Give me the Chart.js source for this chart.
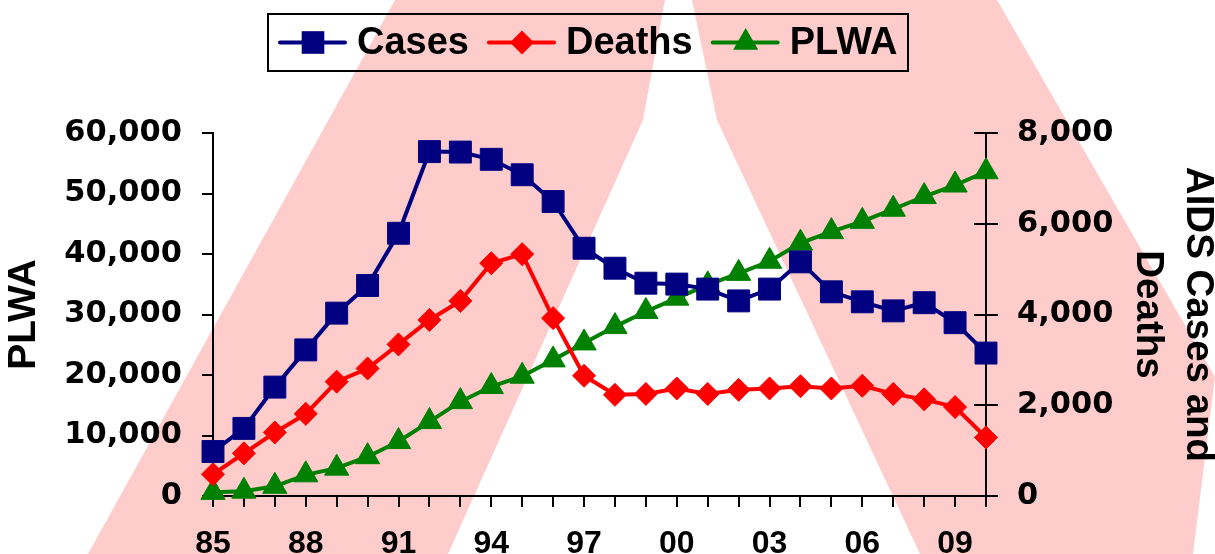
<!DOCTYPE html>
<html>
<head>
<meta charset="utf-8">
<script src="https://cdn.jsdelivr.net/npm/chart.js@4.4.1/dist/chart.umd.min.js"></script>
<style>
  html, body { margin: 0; padding: 0; background: #fff; }
  #wrap { width: 1215px; height: 554px; position: relative; }
</style>
</head>
<body>
<div id="wrap"><canvas id="canva"></canvas></div>
<script>
const years = ["85", "86", "87", "88", "89", "90", "91", "92", "93", "94", "95", "96", "97",
  "98", "99", "00", "01", "02", "03", "04", "05", "06", "07", "08", "09", "10"];
const shownYears = ["85", "88", "91", "94", "97", "00", "03", "06", "09"];

// AIDS cases and deaths (right axis), people living with AIDS (left axis)
const cases = [980, 1490, 2400, 3220, 4030, 4640, 5790, 7590, 7580, 7420, 7080, 6490, 5460,
  5020, 4690, 4670, 4560, 4300, 4560, 5160, 4500, 4280, 4080, 4260, 3820, 3150];
const deaths = [480, 940, 1400, 1810, 2520, 2810, 3340, 3880, 4300, 5130, 5330, 3920, 2650,
  2230, 2250, 2370, 2250, 2340, 2370, 2420, 2370, 2430, 2250, 2130, 1960, 1290];
const plwa = [600, 800, 1600, 3500, 4600, 6500, 9000, 12300, 15600, 18100, 19800, 22500, 25300,
  28000, 30500, 32700, 34900, 36800, 38800, 41800, 43700, 45400, 47400, 49500, 51400, 53600];

const tickFont = { family: "DejaVu Sans", size: 30.5, weight: "bold" };
const titleFont = { family: "Liberation Sans", size: 39, weight: "bold" };

// pink "A" drawn behind the chart (coords for a 1215x554 canvas)
const ribbon = {
  id: "ribbon",
  beforeDraw(chart) {
    const ctx = chart.ctx;
    const sx = chart.width / 1215, sy = chart.height / 554;
    const legs = [
      [[395, 0], [665, 0], [643, 120], [448, 554], [88, 554]],
      [[692, 0], [997, 0], [1215, 377], [1193, 554], [920, 554], [717, 120]],
    ];
    ctx.save();
    ctx.fillStyle = "#FFCCCC";
    legs.forEach(function (pts) {
      ctx.beginPath();
      pts.forEach(function (p, i) {
        if (i === 0) ctx.moveTo(p[0] * sx, p[1] * sy);
        else ctx.lineTo(p[0] * sx, p[1] * sy);
      });
      ctx.closePath();
      ctx.fill();
    });
    ctx.restore();
  },
};

// right axis tick marks cross the axis line
const crossTicks = {
  id: "crossTicks",
  beforeDatasetsDraw(chart) {
    const s = chart.scales.y2;
    const ctx = chart.ctx;
    ctx.save();
    ctx.strokeStyle = "#000";
    ctx.lineWidth = 2;
    s.ticks.forEach(function (t) {
      const y = Math.round(s.getPixelForValue(t.value));
      ctx.beginPath();
      ctx.moveTo(s.left - 12, y);
      ctx.lineTo(s.left, y);
      ctx.stroke();
    });
    ctx.restore();
  },
};

function marker(ctx, style, x, y, r) {
  ctx.beginPath();
  if (style === "rect") {
    const h = Math.SQRT1_2 * r;
    ctx.rect(x - h, y - h, 2 * h, 2 * h);
  } else if (style === "rectRot") {
    ctx.moveTo(x - r, y);
    ctx.lineTo(x, y - r);
    ctx.lineTo(x + r, y);
    ctx.lineTo(x, y + r);
    ctx.closePath();
  } else {
    ctx.moveTo(x, y - r);
    ctx.lineTo(x + r * 0.866, y + r / 2);
    ctx.lineTo(x - r * 0.866, y + r / 2);
    ctx.closePath();
  }
  ctx.fill();
}

// legend with line + marker samples in a framed box
const boxLegend = {
  id: "boxLegend",
  afterDraw(chart) {
    const ctx = chart.ctx;
    const top = 14, h = 57, left = 268;
    const midY = top + h / 2;
    ctx.save();
    ctx.font = "bold 38px 'Liberation Sans'";
    ctx.textBaseline = "middle";
    let x = left + 12;
    chart.data.datasets.forEach(function (ds) {
      ctx.strokeStyle = ds.borderColor;
      ctx.fillStyle = ds.backgroundColor;
      ctx.lineWidth = 4;
      ctx.lineCap = "round";
      ctx.beginPath();
      ctx.moveTo(x, midY);
      ctx.lineTo(x + 65, midY);
      ctx.stroke();
      marker(ctx, ds.pointStyle, x + 33, midY, ds.pointRadius + 0.5);
      ctx.fillStyle = "#000";
      ctx.fillText(ds.label, x + 77, midY + 1);
      x += 77 + ctx.measureText(ds.label).width + 20;
    });
    ctx.lineWidth = 2;
    ctx.strokeStyle = "#000";
    ctx.strokeRect(left, top, 908 - left, h);
    ctx.restore();
  },
};

const data = {
  labels: years,
  datasets: [
    {
      label: "Cases",
      data: cases,
      yAxisID: "y2",
      borderColor: "#000080",
      backgroundColor: "#000080",
      borderWidth: 4,
      pointStyle: "rect",
      pointRadius: 15.5,
      pointBorderWidth: 1,
      clip: false,
    },
    {
      label: "Deaths",
      data: deaths,
      yAxisID: "y2",
      borderColor: "#FF0000",
      backgroundColor: "#FF0000",
      borderWidth: 4,
      pointStyle: "rectRot",
      pointRadius: 11.5,
      pointBorderWidth: 1,
      clip: false,
    },
    {
      label: "PLWA",
      data: plwa,
      yAxisID: "y",
      borderColor: "#008000",
      backgroundColor: "#008000",
      borderWidth: 4,
      pointStyle: "triangle",
      pointRadius: 14,
      pointBorderWidth: 1,
      clip: false,
    },
  ],
};

const config = {
  type: "line",
  data: data,
  options: {
    responsive: true,
    maintainAspectRatio: false,
    animation: false,
    events: [],
    layout: { padding: { top: 133, left: 0, right: 0, bottom: 0 } },
    plugins: {
      legend: { display: false },
      tooltip: { enabled: false },
    },
    scales: {
      x: {
        grid: { drawOnChartArea: false, tickLength: 11, color: "#000", lineWidth: 2 },
        border: { color: "#000", width: 2 },
        ticks: {
          autoSkip: false,
          maxRotation: 0,
          padding: 18,
          color: "#000",
          font: { family: "Liberation Sans", size: 32, weight: "bold" },
          callback: function (v, i) {
            const lab = years[i];
            return shownYears.includes(lab) ? lab : "";
          },
        },
        afterFit: function (s) { s.height = 58; },
      },
      y: {
        position: "left",
        min: 0,
        max: 60000,
        grid: { drawOnChartArea: false, tickLength: 11, color: "#000", lineWidth: 2 },
        border: { color: "#000", width: 2 },
        ticks: {
          stepSize: 10000,
          padding: 20,
          color: "#000",
          font: tickFont,
          callback: function (v) { return v.toLocaleString("en-US"); },
        },
        title: { display: true, text: "PLWA", color: "#000", font: titleFont, padding: { top: 1, bottom: 0 } },
        afterFit: function (s) { s.width = 213; },
      },
      y2: {
        position: "right",
        min: 0,
        max: 8000,
        grid: { drawOnChartArea: false, tickLength: 12, color: "#000", lineWidth: 2 },
        border: { color: "#000", width: 2 },
        ticks: {
          stepSize: 2000,
          padding: 19,
          color: "#000",
          font: tickFont,
          callback: function (v) { return v.toLocaleString("en-US"); },
        },
        title: {
          display: true,
          text: ["AIDS Cases and", "Deaths"],
          color: "#000",
          font: { family: "Liberation Sans", size: 38.5, weight: "bold", lineHeight: 1.3 },
          padding: { top: -8, bottom: 0 },
        },
        afterFit: function (s) { s.width = 229; },
      },
    },
  },
  plugins: [ribbon, crossTicks, boxLegend],
};

const myChart = new Chart(document.getElementById("canva"), config);
</script>
</body>
</html>
